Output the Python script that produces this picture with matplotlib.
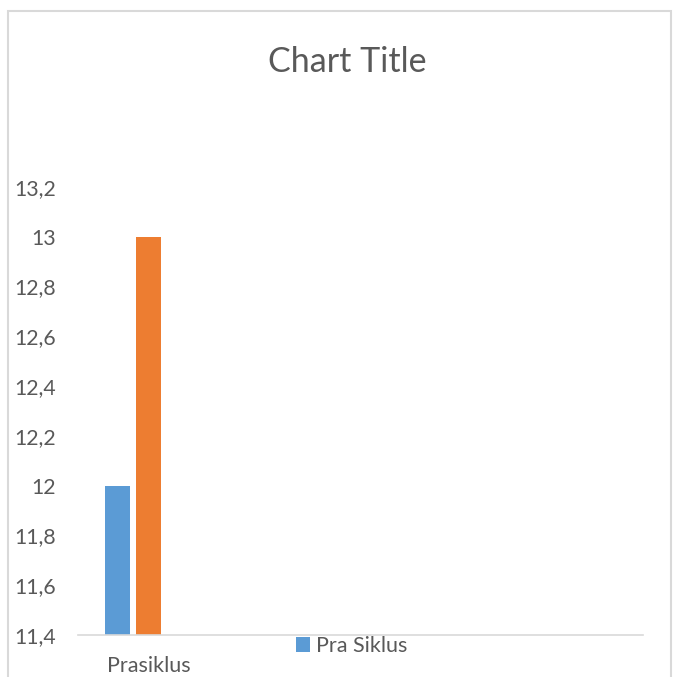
import matplotlib
matplotlib.use("Agg")
import matplotlib.pyplot as plt
from matplotlib.patches import Rectangle
import numpy as np

categories = ["Prasiklus", "", "", ""]
series_names = ["Pra Siklus", "Series2", "Series3"]
series_values = [
    [12.0, np.nan, np.nan, np.nan],
    [13.0, np.nan, np.nan, np.nan],
    [np.nan, np.nan, np.nan, np.nan],
]
colors = ["#5B9BD5", "#ED7D31", "#A5A5A5"]
yticks = [11.4, 11.6, 11.8, 12.0, 12.2, 12.4, 12.6, 12.8, 13.0, 13.2]

plt.rcParams['font.family'] = ['Lato', 'DejaVu Sans']
txt = "#595959"

W, H = 674, 677
fig = plt.figure(figsize=(W/100, H/100), dpi=100)
fig.patches.append(Rectangle((8/W, -0.1), (671-8)/W, 1.1 - 11/H, transform=fig.transFigure,
                             fill=False, edgecolor="#D9D9D9", linewidth=1.5))

ax = fig.add_axes([78/W, 1-635/H, (643-78)/W, (635-187)/H])
x = np.arange(len(categories))
bw = 25/141
step = 31/141
handles = []
for i, (name, vals, c) in enumerate(zip(series_names, series_values, colors)):
    off = (i - 1) * step
    vals = np.array(vals, dtype=float)
    b = ax.bar(x + off, vals - 11.4, bottom=11.4, width=bw, color=c, label=name)
    handles.append(b)

ax.set_xlim(-0.5, len(categories) - 0.5)
ax.set_ylim(11.4, 13.2)
ax.set_yticks(yticks)
ax.set_yticklabels([("%g" % v).replace(".", ",") for v in yticks])
ax.set_xticks(x)
ax.set_xticklabels(categories)
for s in ["left", "right", "top"]:
    ax.spines[s].set_visible(False)
ax.spines["bottom"].set_color("#D9D9D9")
ax.spines["bottom"].set_linewidth(1.2)
ax.tick_params(axis="y", length=0, pad=16, labelsize=15.3, labelcolor=txt)
ax.tick_params(axis="x", length=0, pad=15, labelsize=15.5, labelcolor=txt)

fig.text(347/W, 1-72/H, "Chart Title", ha="center", va="baseline", fontsize=24.5, color=txt)

fig.legend(handles=[handles[0]], labels=[series_names[0]], loc="center",
           bbox_to_anchor=(351.5/W, 1-646/H), frameon=False, fontsize=15.5,
           labelcolor=txt, handlelength=0.65, handleheight=0.65, handletextpad=0.3,
           borderpad=0, borderaxespad=0)

fig.savefig("out.png", dpi=100)
